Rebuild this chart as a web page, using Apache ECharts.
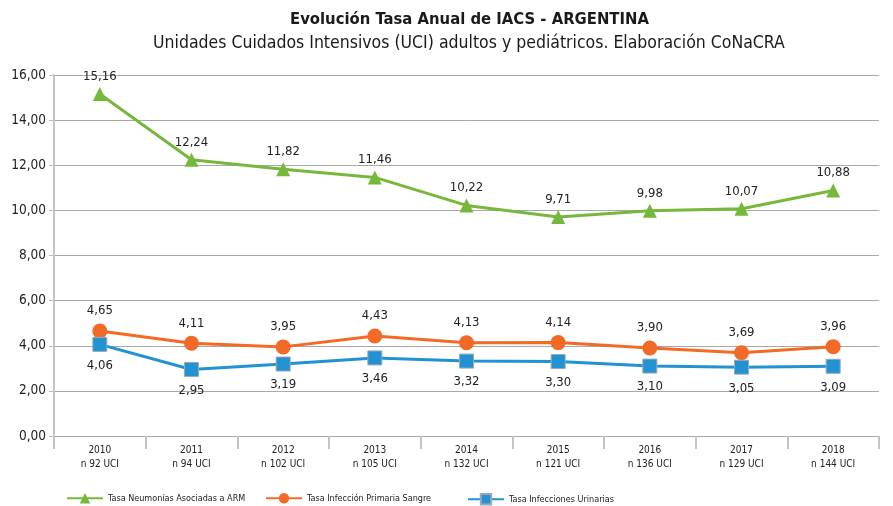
<!DOCTYPE html>
<html>
<head>
<meta charset="utf-8">
<script src="https://cdn.jsdelivr.net/npm/echarts@6/dist/echarts.min.js"></script>
<style>
  html, body { margin: 0; padding: 0; background: #fff; }
  #chart { width: 893px; height: 506px; }
</style>
</head>
<body>
<div id="chart"></div>
<script>
let years = ['2010', '2011', '2012', '2013', '2014', '2015', '2016', '2017', '2018'];
let units = ['n 92 UCI', 'n 94 UCI', 'n 102 UCI', 'n 105 UCI', 'n 132 UCI', 'n 121 UCI', 'n 136 UCI', 'n 129 UCI', 'n 144 UCI'];
let neumonias = [15.16, 12.24, 11.82, 11.46, 10.22, 9.71, 9.98, 10.07, 10.88];
let sangre = [4.65, 4.11, 3.95, 4.43, 4.13, 4.14, 3.90, 3.69, 3.96];
let urinarias = [4.06, 2.95, 3.19, 3.46, 3.32, 3.30, 3.10, 3.05, 3.09];
let names = ['Tasa Neumonías Asociadas a ARM', 'Tasa Infección Primaria Sangre', 'Tasa Infecciones Urinarias'];

let font = "'DejaVu Sans Condensed', 'Liberation Sans Narrow', 'Noto Sans', sans-serif";
let categories = years.map((y, i) => y + '\n' + units[i]);
let comma = v => v.toFixed(2).replace('.', ',');

let chart = echarts.init(document.getElementById('chart'));

// una leyenda por serie, como en el original
let legendLeft = [66, 265, 467];
let legends = names.map((n, i) => ({
    left: legendLeft[i],
    top: 493,
    padding: 0,
    itemWidth: 36,
    itemHeight: 13,
    textStyle: { fontSize: 9, color: '#222', fontFamily: font },
    data: [n]
}));

let option = {
    animation: false,
    textStyle: { fontFamily: font },
    title: [{
        text: 'Evolución Tasa Anual de IACS - ARGENTINA',
        left: 285,
        top: 6,
        textStyle: { fontSize: 16.5, fontWeight: 'bold', color: '#1a1a1a', fontFamily: font }
    }, {
        text: 'Unidades Cuidados Intensivos (UCI) adultos y pediátricos. Elaboración CoNaCRA',
        left: 148,
        top: 29,
        textStyle: { fontSize: 17.5, fontWeight: 'normal', color: '#1a1a1a', fontFamily: font }
    }],
    legend: legends,
    grid: {
        left: 54,
        right: 14,
        top: 75,
        bottom: 70
    },
    xAxis: {
        type: 'category',
        data: categories,
        boundaryGap: true,
        axisLine: { lineStyle: { color: '#aaa', width: 1 } },
        axisTick: { show: true, length: 13, lineStyle: { color: '#c4c4c4', width: 2 } },
        axisLabel: { fontSize: 10, lineHeight: 14, color: '#222', margin: 7 }
    },
    yAxis: {
        type: 'value',
        min: 0,
        max: 16,
        interval: 2,
        axisLine: { show: true, lineStyle: { color: '#c4c4c4', width: 2 } },
        axisTick: { show: true, length: 5, lineStyle: { color: '#bbb' } },
        axisLabel: { fontSize: 13.5, color: '#222', margin: 8, formatter: v => comma(v) },
        splitLine: { lineStyle: { color: '#a8a8a8', width: 1 } }
    },
    series: [{
        name: names[0],
        type: 'line',
        data: neumonias,
        symbol: 'triangle',
        symbolSize: 14,
        itemStyle: { color: '#76b83a' },
        lineStyle: { width: 3, color: '#76b83a' },
        label: { show: true, position: 'top', distance: 4, fontSize: 13, color: '#222', formatter: p => comma(p.value) }
    }, {
        name: names[1],
        type: 'line',
        data: sangre,
        symbol: 'circle',
        symbolSize: 15,
        itemStyle: { color: '#f26a25' },
        lineStyle: { width: 3, color: '#f26a25' },
        label: { show: true, position: 'top', distance: 6, fontSize: 13, color: '#222', formatter: p => comma(p.value) }
    }, {
        name: names[2],
        type: 'line',
        data: urinarias,
        symbol: 'rect',
        symbolSize: 14,
        itemStyle: { color: '#2192d2', borderColor: '#9aa9b5', borderWidth: 1 },
        lineStyle: { width: 3, color: '#2192d2' },
        label: { show: true, position: 'bottom', distance: 7, fontSize: 13, color: '#222', formatter: p => comma(p.value) }
    }]
};

chart.setOption(option);
</script>
</body>
</html>
